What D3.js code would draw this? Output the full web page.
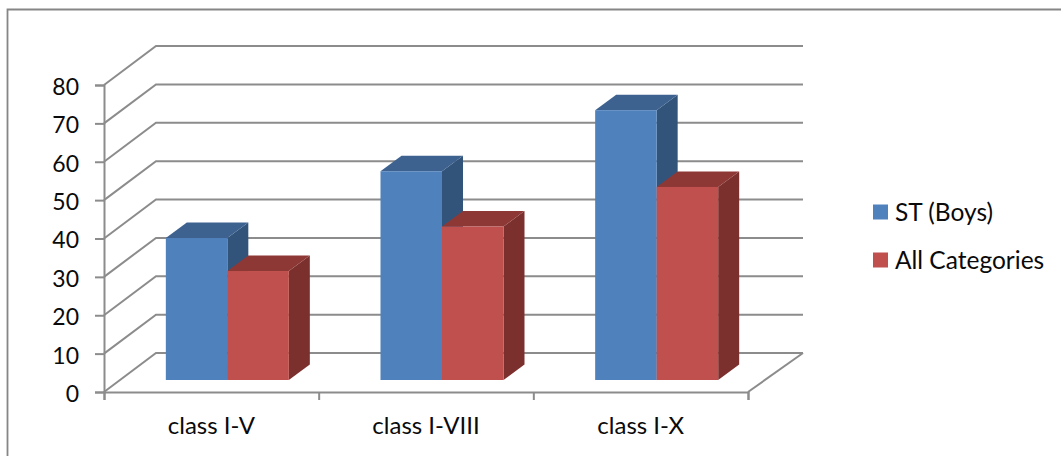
<!DOCTYPE html>
<html>
<head>
<meta charset="utf-8">
<script src="https://cdn.jsdelivr.net/npm/d3@7"></script>
<style>
  html, body { margin: 0; padding: 0; background: #fff; }
  text { font-family: Lato, "Open Sans", sans-serif; fill: #0a0a0a; }
  .axis text { font-size: 23px; }
  .category text { font-size: 24px; }
  .legend text { font-size: 24.5px; }
</style>
</head>
<body>
<div id="chart"></div>
<script>
var categories = ["class I-V", "class I-VIII", "class I-X"];
var seriesNames = ["ST (Boys)", "All Categories"];
var stBoys = [37, 54.4, 70.3];
var allCategories = [28.4, 40, 50.3];
var yTicks = [0, 10, 20, 30, 40, 50, 60, 70, 80];

var seriesValues = [stBoys, allCategories];
var colors = [
    {front: "#4f81bd", top: "#3e628f", side: "#32547b"},
    {front: "#c0504d", top: "#8e3836", side: "#7b302e"}
];

var width = 1061;
var height = 456;
var gridColor = "#8c8c8c";

// the floor goes back up and to the right, bars stand part way in
var depth = {dx: 52, dy: -39};
var barOffset = {dx: 16, dy: -12};
var barDepth = {dx: 21, dy: -15.5};

var svg = d3.select("#chart")
    .append("svg")
    .attr("width", width)
    .attr("height", height)
    .style("display", "block");

// outer frame, only the top and left edges show
svg.append("path")
    .attr("d", d3.line()([[7.5, height], [7.5, 9.5], [width, 9.5]]))
    .attr("fill", "none")
    .attr("stroke", "#868686")
    .attr("stroke-width", 1.8);

var xScale = d3.scaleBand()
    .domain(categories)
    .range([104, 748])
    .paddingInner(0.427)
    .paddingOuter(0.2135);

var xSub = d3.scaleBand()
    .domain(d3.range(seriesNames.length))
    .range([0, xScale.bandwidth()]);

var yScale = d3.scaleLinear()
    .domain([0, 80])
    .range([392, 85]);

// gridlines: up the side wall then along the back wall
svg.append("g")
    .selectAll("path")
    .data(yTicks)
    .enter()
    .append("path")
    .attr("d", function(d) {
        return d3.line()([
            [104, yScale(d)],
            [104 + depth.dx, yScale(d) + depth.dy],
            [803, yScale(d) + depth.dy]
        ]);
    })
    .attr("fill", "none")
    .attr("stroke", gridColor)
    .attr("stroke-width", 2);

// right edge of the floor
svg.append("line")
    .attr("x1", 748)
    .attr("y1", yScale(0))
    .attr("x2", 803)
    .attr("y2", yScale(0) + depth.dy)
    .attr("stroke", gridColor)
    .attr("stroke-width", 2);

var yAxis = svg.append("g")
    .attr("class", "axis")
    .attr("transform", "translate(104,0)")
    .call(d3.axisLeft(yScale).tickValues(yTicks).tickSize(9).tickPadding(16));

// labels sit a little under their tick
yAxis.selectAll("text").attr("y", 2);

var xAxis = svg.append("g")
    .attr("class", "axis")
    .attr("transform", "translate(0,392)")
    .call(d3.axisBottom(d3.scaleLinear().domain([0, 3]).range([104, 748]))
        .tickValues([0, 1, 2, 3]).tickSize(8).tickFormat(""));

svg.selectAll(".axis path, .axis line")
    .attr("stroke", gridColor)
    .attr("stroke-width", 2);

// category labels sit under the middle of each band
svg.append("g")
    .attr("class", "category")
    .selectAll("text")
    .data(categories)
    .enter()
    .append("text")
    .attr("x", function(d) { return xScale(d) + xScale.bandwidth() / 2; })
    .attr("y", 434)
    .attr("text-anchor", "middle")
    .text(function(d) { return d; });

// draw the bars, blue first so red covers its side face
var bars = [];
seriesValues.forEach(function(values, s) {
    values.forEach(function(v, i) {
        bars.push({series: s, category: categories[i], value: v});
    });
});

var barGroups = svg.append("g")
    .selectAll("g")
    .data(bars)
    .enter()
    .append("g");

function barBox(d) {
    return {
        x0: xScale(d.category) + xSub(d.series) + barOffset.dx,
        x1: xScale(d.category) + xSub(d.series) + xSub.bandwidth() + barOffset.dx,
        yTop: yScale(d.value) + barOffset.dy,
        yBottom: yScale(0) + barOffset.dy
    };
}

barGroups.append("path")
    .attr("fill", function(d) { return colors[d.series].side; })
    .attr("d", function(d) {
        var b = barBox(d);
        return d3.line()([
            [b.x1, b.yTop],
            [b.x1 + barDepth.dx, b.yTop + barDepth.dy],
            [b.x1 + barDepth.dx, b.yBottom + barDepth.dy],
            [b.x1, b.yBottom]
        ]) + "Z";
    });

barGroups.append("path")
    .attr("fill", function(d) { return colors[d.series].top; })
    .attr("d", function(d) {
        var b = barBox(d);
        return d3.line()([
            [b.x0, b.yTop],
            [b.x0 + barDepth.dx, b.yTop + barDepth.dy],
            [b.x1 + barDepth.dx, b.yTop + barDepth.dy],
            [b.x1, b.yTop]
        ]) + "Z";
    });

barGroups.append("rect")
    .attr("fill", function(d) { return colors[d.series].front; })
    .attr("x", function(d) { return barBox(d).x0; })
    .attr("y", function(d) { return barBox(d).yTop; })
    .attr("width", xSub.bandwidth())
    .attr("height", function(d) { return barBox(d).yBottom - barBox(d).yTop; });

// legend
var legendY = d3.scalePoint()
    .domain(seriesNames)
    .range([212, 260]);

var legend = svg.append("g")
    .attr("class", "legend")
    .selectAll("g")
    .data(seriesNames)
    .enter()
    .append("g")
    .attr("transform", function(d) { return "translate(873," + legendY(d) + ")"; });

legend.append("rect")
    .attr("y", -7.5)
    .attr("width", 15)
    .attr("height", 15)
    .attr("fill", function(d, i) { return colors[i].front; });

legend.append("text")
    .attr("x", 22)
    .attr("y", 8.5)
    .text(function(d) { return d; });
</script>
</body>
</html>
